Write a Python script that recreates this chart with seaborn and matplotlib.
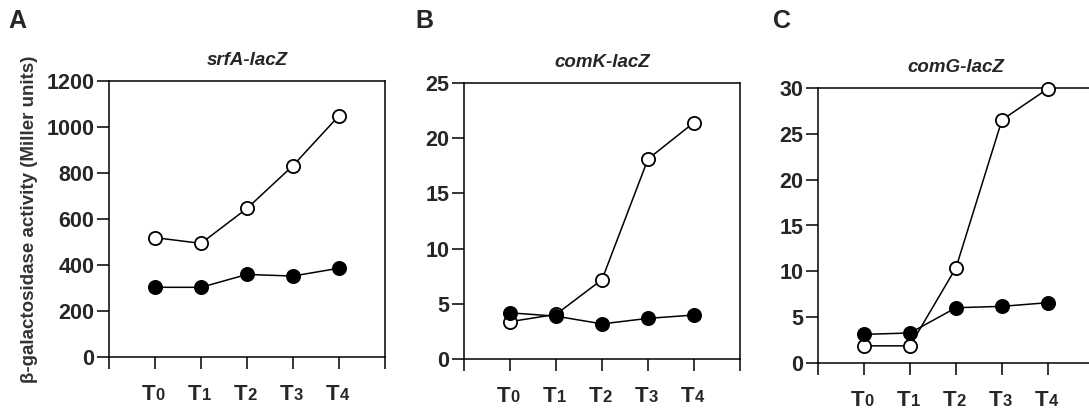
import matplotlib
matplotlib.use('Agg')
import matplotlib.pyplot as plt
import seaborn as sns
import pandas as pd

# dados
time_points = [0, 1, 2, 3, 4]
time_digits = ['0', '1', '2', '3', '4']
panel_letters = ['A', 'B', 'C']
panel_titles = ['srfA-lacZ', 'comK-lacZ', 'comG-lacZ']

srfA_open = [519, 494, 646, 832, 1049]
srfA_filled = [303, 303, 359, 352, 386]
comK_open = [3.4, 4.06, 7.2, 18.1, 21.4]
comK_filled = [4.2, 3.9, 3.2, 3.7, 4.0]
comG_open = [1.9, 1.9, 10.4, 26.5, 29.9]
comG_filled = [3.15, 3.3, 6.05, 6.2, 6.6]

y_ticks = [[0, 200, 400, 600, 800, 1000, 1200],
           [0, 5, 10, 15, 20, 25],
           [0, 5, 10, 15, 20, 25, 30]]

sns.set_style('ticks')
plt.rcParams['font.family'] = ['Liberation Sans', 'DejaVu Sans']
plt.rcParams['font.weight'] = 'bold'

fig = plt.figure(figsize=(10.89, 4.11), dpi=100)
W, H = 1089, 411
# posicoes dos eixos em pixels (esq, dir, topo, base)
boxes = [(109, 385, 81, 357), (464, 740, 82.7, 359.3), (818, 1094, 87.7, 363.3)]
letter_x = [8, 415, 773]

series = [(srfA_open, srfA_filled), (comK_open, comK_filled), (comG_open, comG_filled)]

for i, (l, r, t, b) in enumerate(boxes):
    ax = fig.add_axes([l / W, (H - b) / H, (r - l) / W, (b - t) / H])
    opn, fil = series[i]
    df = pd.DataFrame({'t': time_points, 'open': opn, 'filled': fil})
    # abertos primeiro, cheios por cima
    sns.lineplot(data=df, x='t', y='open', ax=ax, color='black', linewidth=1.1,
                 marker='o', markersize=9.5, markerfacecolor='white',
                 markeredgecolor='black', markeredgewidth=1.3, clip_on=False, zorder=3)
    sns.lineplot(data=df, x='t', y='filled', ax=ax, color='black', linewidth=1.1,
                 marker='o', markersize=9.5, markerfacecolor='black',
                 markeredgecolor='black', markeredgewidth=1.3, clip_on=False, zorder=4)
    ax.set_xlim(-1, 5)
    ax.set_ylim(0, y_ticks[i][-1])
    ax.set_xticks(range(-1, 6))
    ax.set_xticklabels([''] * 7)
    ax.set_yticks(y_ticks[i])
    ax.set_yticklabels([str(v) for v in y_ticks[i]], fontsize=15.5, fontweight='bold')
    ax.set_xlabel('')
    ax.set_ylabel('')
    for s in ax.spines.values():
        s.set_visible(True)
        s.set_linewidth(1.1)
        s.set_color('black')
    ax.tick_params(direction='out', length=8.5, width=1.1, color='black', pad=2)
    ax.set_title(panel_titles[i], fontsize=13.5, fontweight='bold', style='italic', pad=11.5)

    # rotulos T0..T4 (T grande, digito menor)
    for x, d in zip(time_points, time_digits):
        ax.annotate('T', xy=(x, 0), xycoords=('data', 'axes fraction'),
                    xytext=(0.5, -31), textcoords='offset points',
                    ha='right', va='baseline', fontsize=16, fontweight='bold')
        ax.annotate(d, xy=(x, 0), xycoords=('data', 'axes fraction'),
                    xytext=(0.5, -31), textcoords='offset points',
                    ha='left', va='baseline', fontsize=12, fontweight='bold')

    fig.text(letter_x[i] / W, (H - 28) / H, panel_letters[i], fontsize=18,
             fontweight='bold', ha='left', va='baseline')

fig.text(30 / W, (H - 219) / H, '\u03b2-galactosidase activity (Miller units)',
         rotation=90, ha='center', va='center', fontsize=13.5, fontweight='bold',
         color='#333333')

plt.savefig('out.png', dpi=100)
